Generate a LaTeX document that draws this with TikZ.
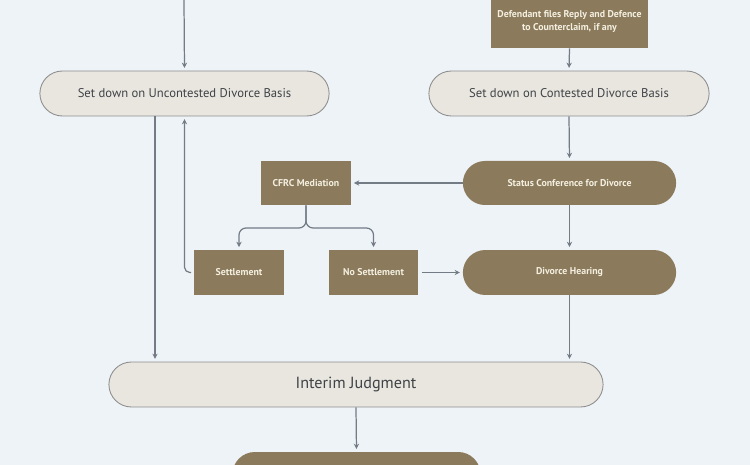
\documentclass[tikz,border=0pt]{standalone}
\usepackage{fontspec}
\setmainfont{PT Sans}
\usetikzlibrary{arrows.meta,shapes.misc,calc}

\definecolor{sfondo}{HTML}{EEF3F8}
\definecolor{beige}{HTML}{E9E6DF}
\definecolor{bordo}{HTML}{8E8E8E}
\definecolor{marrone}{HTML}{8B7B5C}
\definecolor{crema}{HTML}{F4EFE0}
\definecolor{testo}{HTML}{3F4347}
\definecolor{linea}{HTML}{737B85}

\tikzset{
  conn/.style={draw=linea, line width=0.7pt, -{Stealth[length=3pt,width=3pt]}, shorten >=1.5pt},
  pillchiaro/.style={rounded rectangle, draw=bordo, line width=0.5pt, fill=beige,
    text=testo, font=\fontsize{7.2}{8}\selectfont},
  pillscuro/.style={rounded rectangle, fill=marrone, text=crema,
    font=\bfseries\fontsize{5.6}{6.5}\selectfont},
  boxscuro/.style={rectangle, fill=marrone, text=crema, align=center,
    font=\bfseries\fontsize{5.6}{7.4}\selectfont}
}

\begin{document}
\begin{tikzpicture}[x=0.02cm, y=-0.02cm]

    % Sfondo e ritaglio
    \useasboundingbox (0,0) rectangle (750,465);
    \fill[sfondo] (0,0) rectangle (750,465);
    \clip (0,0) rectangle (750,465);

    % Punti di appoggio
    \coordinate (ingresso) at (184,0);
    \coordinate (uscita) at (155,0);
    \coordinate (bivio) at (306,228);

    % Nodi della colonna sinistra
    \node[pillchiaro, minimum width=6.02cm, minimum height=0.9cm] (uncont) at (184.5,93.5)
        {Set down on Uncontested Divorce Basis};

    % Nodi della colonna destra
    \node[boxscuro, minimum width=3.14cm, minimum height=1.04cm] (replica) at (569.5,22)
        {Defendant files Reply and Defence\\to Counterclaim, if any};
    \node[pillchiaro, minimum width=5.84cm, minimum height=0.9cm] (cont) at (569,93.5)
        {Set down on Contested Divorce Basis};
    \node[pillscuro, minimum width=4.5cm, minimum height=0.88cm] (status) at (569.5,183)
        {Status Conference for Divorce};
    \node[pillscuro, minimum width=4.5cm, minimum height=0.9cm] (udienza) at (569.5,272.5)
        {Divorce Hearing};

    % Mediazione
    \node[boxscuro, minimum width=1.8cm, minimum height=0.88cm] (cfrc) at (306,183)
        {CFRC Mediation};
    \node[boxscuro, minimum width=1.8cm, minimum height=0.9cm] (accordo) at (239,272.5)
        {Settlement};
    \node[boxscuro, minimum width=1.8cm, minimum height=0.9cm] (noaccordo) at (373.5,272.5)
        {No Settlement};

    % Sentenza
    \node[pillchiaro, minimum width=10.12cm, minimum height=0.9cm,
          font=\fontsize{9.2}{11}\selectfont] (interim) at (356,384.5) {Interim Judgment};
    \node[pillscuro, minimum width=5.2cm, minimum height=0.9cm] (finale) at (356.5,474.5) {};

    % Collegamenti
    \draw[conn] (ingresso) -- (uncont.north);
    \draw[conn] (replica.south) -- (cont.north);
    \draw[conn] (cont.south) -- (status.north);
    \draw[conn] (status.west) -- (cfrc.east);
    \draw[conn, rounded corners=4pt] (cfrc.south) -- (bivio) -| (accordo.north);
    \draw[conn, rounded corners=4pt] (cfrc.south) -- (bivio) -| (noaccordo.north);
    \draw[conn, shorten <=2pt] (noaccordo.east) -- (udienza.west);
    \draw[conn, rounded corners=3pt, shorten <=1.5pt] (accordo.west) -| (uncont.south);
    \draw[conn] (status.south) -- (udienza.north);
    \draw[conn] (uncont.south -| uscita) -- (uscita |- interim.north);
    \draw[conn] (udienza.south) -- (udienza.south |- interim.north);
    \draw[conn] (interim.south) -- (finale.north);

\end{tikzpicture}
\end{document}
